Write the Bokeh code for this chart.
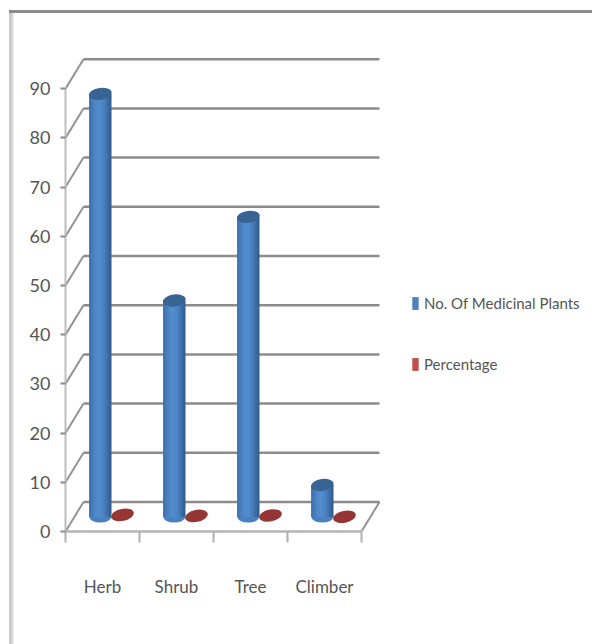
from bokeh.plotting import figure
from bokeh.models import Range1d, FixedTicker, Legend, LegendItem
from bokeh.embed import file_html
from bokeh.resources import INLINE

categories = ["Herb", "Shrub", "Tree", "Climber"]
plants = [86, 44, 61, 6.5]
percentage = [0.43, 0.22, 0.31, 0.04]
y_ticks = [0, 10, 20, 30, 40, 50, 60, 70, 80, 90]

FONT = "Lato"
TEXT = "#555555"
GRID = "#808080"
PX_X = 74.0
PX_Y = 4.92
DX = 18 / PX_X
DY = 29.5 / PX_Y
BASE = 14.5 / PX_Y

p = figure(width=592, height=644, output_backend="svg", toolbar_location=None,
           x_range=Range1d(0, (592 - 65) / PX_X), y_range=Range1d(0, 531 / PX_Y),
           min_border_left=65, min_border_bottom=113, min_border_top=0, min_border_right=0,
           outline_line_color=None, background_fill_alpha=0, border_fill_alpha=0)
p.styles = {
    "background": "linear-gradient(#8c8c8c,#8c8c8c) 9px 10px/583px 3px no-repeat,"
                  "linear-gradient(90deg,#c4c4c4,#d2d2d2 60%,#f2f2f2) 9px 10px/5px 634px no-repeat,"
                  "#ffffff",
}
p.grid.visible = False

n = len(categories)
# y axis
ya = p.yaxis[0]
ya.ticker = FixedTicker(ticks=y_ticks)
ya.axis_line_color = "#bdbdbd"; ya.axis_line_width = 2
ya.major_tick_line_color = "#8a8a8a"; ya.major_tick_line_width = 2
ya.major_tick_out = 5; ya.major_tick_in = 0
ya.minor_tick_line_color = None
ya.major_label_standoff = 10
ya.major_label_text_font = FONT
ya.major_label_text_font_size = "18px"
ya.major_label_text_color = TEXT
ya.bounds = (0, 90)
# x axis
xa = p.xaxis[0]
mids = [i + 0.5 for i in range(n)]
xa.ticker = FixedTicker(ticks=mids, minor_ticks=list(range(n + 1)))
xa.major_label_overrides = {m: c for m, c in zip(mids, categories)}
xa.major_tick_line_color = None
xa.major_tick_out = 0; xa.major_tick_in = 0
xa.minor_tick_line_color = "#b0b0b0"; xa.minor_tick_line_width = 2
xa.minor_tick_out = 11; xa.minor_tick_in = 0
xa.axis_line_color = "#b5b5b5"; xa.axis_line_width = 2.5
xa.bounds = (0, n)
xa.major_label_standoff = 33
xa.major_label_text_font = FONT
xa.major_label_text_font_size = "17px"
xa.major_label_text_color = TEXT

# back wall and side wall
p.segment(x0=[DX] * len(y_ticks), x1=[n + DX] * len(y_ticks),
          y0=[v + DY for v in y_ticks], y1=[v + DY for v in y_ticks],
          line_color=GRID, line_width=2.5, line_alpha=0.9)
p.segment(x0=[0] * len(y_ticks), x1=[DX] * len(y_ticks),
          y0=y_ticks, y1=[v + DY for v in y_ticks],
          line_color=GRID, line_width=2, line_alpha=0.85)
p.segment(x0=[n], x1=[n + DX], y0=[0], y1=[DY], line_color=GRID, line_width=2, line_alpha=0.85)

# cylinders
xs = [i + 0.47 for i in range(n)]
xr = [i + 0.77 for i in range(n)]
W = 22 / PX_X
bottoms = [BASE] * n
tops = [BASE + v for v in plants]

blue_base = p.vbar(x=xs, width=W, bottom=bottoms, top=tops, fill_color="#4f81bd", line_color=None)
strips = ["#3f72ae", "#4679b8", "#4c83c3", "#5089ca", "#528dce", "#518ccc",
          "#4e87c6", "#497fbc", "#4275b0", "#3a6aa1", "#326093"]
sw = W / len(strips)
# lower cap goes under the strips
p.ellipse(x=xs, y=bottoms, width=22, height=11, width_units="screen", height_units="screen",
          fill_color="#4a80c0", line_color=None)
for k, col in enumerate(strips):
    off = (k - (len(strips) - 1) / 2) * sw
    p.vbar(x=[x + off for x in xs], width=sw * 1.1, bottom=bottoms, top=tops,
           fill_color=col, line_color=None)
# upper cap
p.ellipse(x=xs, y=tops, width=23, height=12, angle=0.14, width_units="screen", height_units="screen",
          fill_color="#386494", line_color=None)

# percentage discs
red_tops = [BASE + v for v in percentage]
red_base = p.vbar(x=xr, width=W * 0.6, bottom=bottoms, top=red_tops, fill_color="#c0504d", line_color=None)
p.ellipse(x=xr, y=red_tops, width=23, height=12, angle=0.2, width_units="screen", height_units="screen",
          fill_color="#963634", line_color=None)

legend = Legend(items=[LegendItem(label="No. Of Medicinal Plants", renderers=[blue_base]),
                       LegendItem(label="Percentage", renderers=[red_base])],
                location=(346, 158), orientation="vertical",
                border_line_color=None, background_fill_alpha=0, margin=0, padding=0,
                glyph_width=8, glyph_height=16, label_standoff=5, spacing=43,
                label_text_font=FONT, label_text_font_size="15px", label_text_color=TEXT)
p.add_layout(legend)

open("out.html", "w").write(file_html(p, INLINE))
